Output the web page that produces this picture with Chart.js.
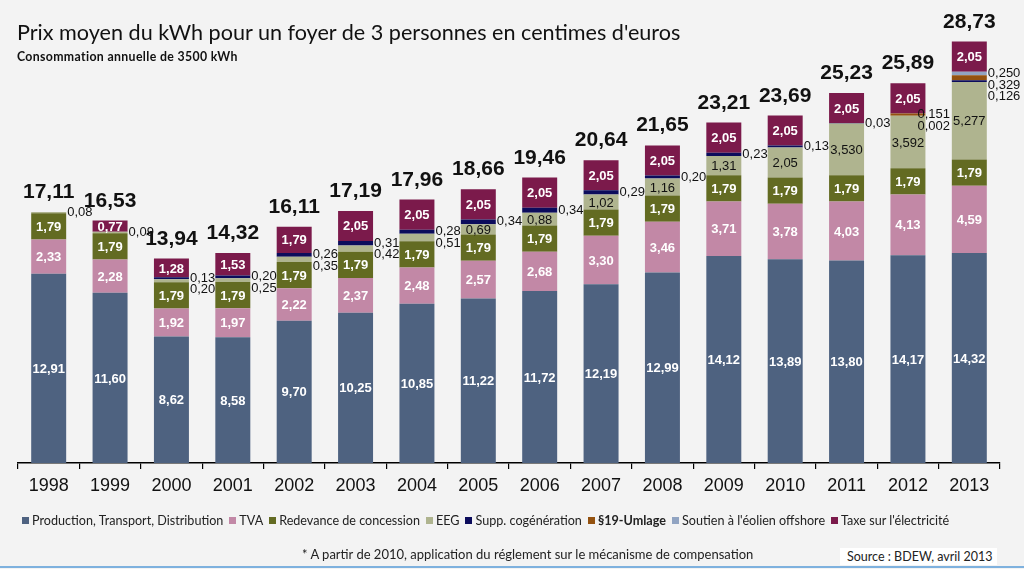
<!DOCTYPE html>
<html>
<head>
<meta charset="utf-8">
<script src="https://cdn.jsdelivr.net/npm/chart.js@4.4.1/dist/chart.umd.min.js"></script>
<style>
  html, body { margin: 0; padding: 0; background: #f3f3f3; }
  #cadre { position: relative; width: 1024px; height: 569px; overflow: hidden; background: #f3f3f3; }
  #graphique { position: absolute; left: 0; top: 0; }
  .texte { position: absolute; font-family: Lato, "Open Sans", sans-serif; color: #111; white-space: nowrap; line-height: 1; }
  #titre { left: 17px; top: 22px; font-size: 21.6px; }
  #sousTitre { left: 17px; top: 51px; font-size: 12.3px; font-weight: bold; letter-spacing: 0.35px; }
  #legende { left: 22px; top: 515px; font-size: 12.6px; color: #222; }
  #legende .carre { display: inline-block; width: 7px; height: 7px; margin-right: 3px; vertical-align: 1px; }
  #legende .item { margin-right: 6px; }
  #note { left: 302px; top: 548px; font-size: 13px; color: #222; }
  #source { left: 840px; top: 548px; width: 157px; height: 17px; background: #fff; font-size: 12.5px; color: #222; line-height: 17px; text-indent: 7px; }
  #filet { position: absolute; left: 0; top: 566px; width: 1024px; height: 2px; background: #7eb1de; }
</style>
</head>
<body>
<div id="cadre">
  <canvas id="graphique" width="1024" height="569"></canvas>
  <div class="texte" id="titre">Prix moyen du kWh pour un foyer de 3 personnes en centimes d'euros</div>
  <div class="texte" id="sousTitre">Consommation annuelle de 3500 kWh</div>
  <div class="texte" id="legende"></div>
  <div class="texte" id="note">* A partir de 2010, application du réglement sur le mécanisme de compensation</div>
  <div class="texte" id="source">Source : BDEW, avril 2013</div>
  <div id="filet"></div>
</div>
<script>
const annees = ["1998", "1999", "2000", "2001", "2002", "2003", "2004", "2005",
                "2006", "2007", "2008", "2009", "2010", "2011", "2012", "2013"];

const production = [12.91, 11.60, 8.62, 8.58, 9.70, 10.25, 10.85, 11.22, 11.72, 12.19, 12.99, 14.12, 13.89, 13.80, 14.17, 14.32];
const tva = [2.33, 2.28, 1.92, 1.97, 2.22, 2.37, 2.48, 2.57, 2.68, 3.30, 3.46, 3.71, 3.78, 4.03, 4.13, 4.59];
const redevance = [1.79, 1.79, 1.79, 1.79, 1.79, 1.79, 1.79, 1.79, 1.79, 1.79, 1.79, 1.79, 1.79, 1.79, 1.79, 1.79];
const eeg = [0.08, 0.09, 0.20, 0.25, 0.35, 0.42, 0.51, 0.69, 0.88, 1.02, 1.16, 1.31, 2.05, 3.530, 3.592, 5.277];
const cogeneration = [null, null, 0.13, 0.20, 0.26, 0.31, 0.28, 0.34, 0.34, 0.29, 0.20, 0.23, 0.13, 0.03, 0.002, 0.126];
const umlage = [null, null, null, null, null, null, null, null, null, null, null, null, null, null, 0.151, 0.329];
const offshore = [null, null, null, null, null, null, null, null, null, null, null, null, null, null, null, 0.250];
const taxe = [null, 0.77, 1.28, 1.53, 1.79, 2.05, 2.05, 2.05, 2.05, 2.05, 2.05, 2.05, 2.05, 2.05, 2.05, 2.05];
const totaux = [17.11, 16.53, 13.94, 14.32, 16.11, 17.19, 17.96, 18.66, 19.46, 20.64, 21.65, 23.21, 23.69, 25.23, 25.89, 28.73];

// nombre de décimales affichées
const decNormal = [2, 2, 2, 2, 2, 2, 2, 2, 2, 2, 2, 2, 2, 2, 2, 2];
const decEeg = [2, 2, 2, 2, 2, 2, 2, 2, 2, 2, 2, 2, 2, 3, 3, 3];
const decPetits = [2, 2, 2, 2, 2, 2, 2, 2, 2, 2, 2, 2, 2, 2, 3, 3];

const police = "'Liberation Sans', Arial, sans-serif";
// décalage horizontal des petites étiquettes (par index d'année)
const decalage = { 14: -9 };

function fmt(v, dec) {
  return v.toFixed(dec).replace(".", ",");
}

const etiquettes = {
  id: "etiquettes",
  afterDatasetsDraw(chart) {
    const ctx = chart.ctx;
    ctx.save();
    for (let i = 0; i < annees.length; i++) {
      const petits = [];
      let sommet = null;
      chart.data.datasets.forEach((ds, d) => {
        const v = ds.data[i];
        const barre = chart.getDatasetMeta(d).data[i];
        if (v == null || !barre) return;
        const h = Math.abs(barre.base - barre.y);
        const txt = fmt(v, ds.dec[i]);
        const milieu = (barre.y + barre.base) / 2;
        if (h >= 9) {
          ctx.textAlign = "center";
          ctx.textBaseline = "middle";
          ctx.fillStyle = ds.couleurTexte;
          ctx.font = (ds.couleurTexte === "#fff" ? "bold " : "") + "13px " + police;
          ctx.fillText(txt, barre.x, milieu + 1);
        } else {
          petits.push({ y: milieu, txt: txt, x: barre.x + barre.width / 2 });
        }
        if (!sommet || barre.y < sommet.y) sommet = barre;
      });
      petits.sort((a, b) => a.y - b.y);
      let prec = -1000;
      ctx.textAlign = "left";
      ctx.textBaseline = "middle";
      ctx.fillStyle = "#111";
      ctx.font = "13px " + police;
      petits.forEach(p => {
        const y = Math.max(p.y, prec + 11.5);
        ctx.fillText(p.txt, p.x + 1 + (decalage[i] || 0), y);
        prec = y;
      });
      if (sommet) {
        ctx.textAlign = "center";
        ctx.textBaseline = "alphabetic";
        ctx.fillStyle = "#111";
        ctx.font = "bold 21px " + police;
        ctx.fillText(fmt(totaux[i], 2), sommet.x, sommet.y - 14);
      }
    }
    ctx.restore();
  }
};

function serie(label, data, couleur, couleurTexte, dec, gras) {
  return {
    label: label,
    data: data,
    backgroundColor: couleur,
    borderWidth: 0,
    barPercentage: 0.57,
    categoryPercentage: 1,
    couleurTexte: couleurTexte,
    dec: dec,
    gras: gras || false
  };
}

const chart = new Chart(document.getElementById("graphique"), {
  type: "bar",
  data: {
    labels: annees,
    datasets: [
      serie("Production, Transport, Distribution", production, "#4e6280", "#fff", decNormal),
      serie("TVA", tva, "#c288a6", "#fff", decNormal),
      serie("Redevance de concession", redevance, "#636b22", "#fff", decNormal),
      serie("EEG", eeg, "#afb48f", "#111", decEeg),
      serie("Supp. cogénération", cogeneration, "#0c0c5c", "#fff", decPetits),
      serie("§19-Umlage", umlage, "#94520f", "#fff", decPetits, true),
      serie("Soutien à l'éolien offshore", offshore, "#91a4c2", "#fff", decPetits),
      serie("Taxe sur l'électricité", taxe, "#7b1a4b", "#fff", decNormal)
    ]
  },
  options: {
    responsive: false,
    animation: false,
    layout: { padding: { left: 18, right: 24, top: 23, bottom: 0 } },
    plugins: {
      legend: { display: false },
      tooltip: { enabled: false }
    },
    scales: {
      x: {
        stacked: true,
        afterFit: (scale) => { scale.height = 106; },
        border: { display: true, color: "#000", width: 1.5 },
        grid: { display: true, drawOnChartArea: false, drawTicks: true, tickLength: 6, color: "#000", lineWidth: 1.2 },
        ticks: { color: "#111", padding: 6, font: { family: police, size: 18 } }
      },
      y: {
        stacked: true,
        display: false,
        min: 0,
        max: 30
      }
    }
  },
  plugins: [etiquettes]
});

// légende HTML construite à partir des séries
const legende = document.getElementById("legende");
chart.data.datasets.forEach(ds => {
  const item = document.createElement("span");
  item.className = "item";
  const carre = document.createElement("span");
  carre.className = "carre";
  carre.style.background = ds.backgroundColor;
  const nom = document.createElement("span");
  nom.textContent = ds.label;
  if (ds.gras) nom.style.fontWeight = "bold";
  item.appendChild(carre);
  item.appendChild(nom);
  legende.appendChild(item);
});
</script>
</body>
</html>
